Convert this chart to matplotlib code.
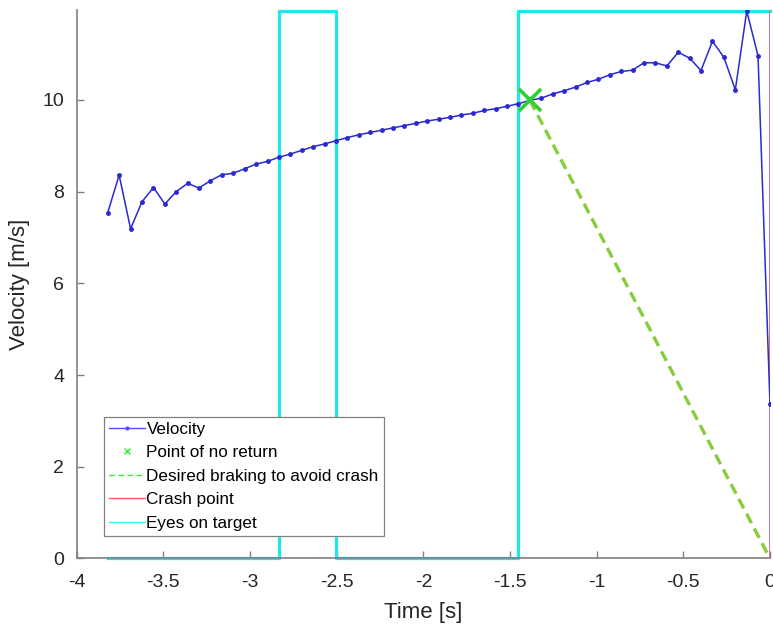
import matplotlib
matplotlib.use("Agg")
from matplotlib import pyplot as plt
from matplotlib.lines import Line2D

plt.rcParams['font.family'] = ['Liberation Sans', 'DejaVu Sans']

# sample times [s] relative to crash
time = [-3.821, -3.755, -3.689, -3.623, -3.557, -3.491, -3.426, -3.360, -3.294, -3.228,
        -3.162, -3.097, -3.031, -2.965, -2.899, -2.833, -2.767, -2.702, -2.636, -2.570,
        -2.504, -2.438, -2.372, -2.307, -2.241, -2.175, -2.109, -2.043, -1.977, -1.912,
        -1.846, -1.780, -1.714, -1.648, -1.582, -1.517, -1.451, -1.385, -1.319, -1.253,
        -1.188, -1.122, -1.056, -0.990, -0.924, -0.858, -0.793, -0.727, -0.661, -0.595,
        -0.529, -0.463, -0.398, -0.332, -0.266, -0.200, -0.134, -0.069, 0.0]

velocity = [7.54, 8.36, 7.19, 7.78, 8.09, 7.73, 8.00, 8.18, 8.08, 8.24,
            8.37, 8.40, 8.50, 8.60, 8.66, 8.75, 8.82, 8.90, 8.98, 9.04,
            9.11, 9.18, 9.24, 9.29, 9.34, 9.39, 9.44, 9.49, 9.54, 9.58,
            9.62, 9.67, 9.71, 9.77, 9.81, 9.86, 9.92, 9.99, 10.04, 10.13,
            10.20, 10.28, 10.38, 10.45, 10.55, 10.62, 10.65, 10.81, 10.81, 10.74,
            11.04, 10.91, 10.64, 11.28, 10.93, 10.22, 11.94, 10.96, 3.37]

# 1 = eyes on target at that sample
eyes = [0] * 15 + [1] * 5 + [0] * 16 + [1] * 23

no_return_idx = 37
crash_time = 0.0

fig = plt.figure(figsize=(7.73, 6.28), dpi=100)
ax = fig.add_axes([0.0992, 0.1107, 0.8969, 0.8733])

top = max(velocity)
eyes_level = [e * top for e in eyes]

ax.step(time, eyes_level, where='post', color='#1ee6ea', linewidth=2.3, clip_on=False, zorder=2)
ax.plot(time, velocity, color='#2a2ad0', linewidth=1.1, marker='.', markersize=5, zorder=3)
ax.plot([crash_time, crash_time], [0, top], color='#cc7a80', linewidth=1.4, zorder=2)

t0 = time[no_return_idx]
v0 = velocity[no_return_idx]
ax.plot([t0, crash_time], [v0, 0], color='#86cc3c', linewidth=2.4,
        linestyle=(0, (3.2, 1.8)), zorder=4)
ax.plot([t0], [v0], marker='x', markersize=16, markeredgewidth=2.6,
        color='#2ed12e', linestyle='none', zorder=5)

ax.set_xlim(-4, 0)
ax.set_ylim(0, 11.96)
ax.set_xticks([-4, -3.5, -3, -2.5, -2, -1.5, -1, -0.5, 0])
ax.set_xticklabels(['-4', '-3.5', '-3', '-2.5', '-2', '-1.5', '-1', '-0.5', '0'])
ax.set_yticks([0, 2, 4, 6, 8, 10])

for side in ['top', 'right']:
    ax.spines[side].set_visible(False)
for side in ['left', 'bottom']:
    ax.spines[side].set_color('#808080')
    ax.spines[side].set_linewidth(1.2)
ax.tick_params(direction='in', length=5, width=1.0, color='#808080',
               labelsize=14, labelcolor='#262626')
ax.tick_params(axis='x', pad=11)
ax.tick_params(axis='y', pad=9)

ax.set_xlabel('Time [s]', fontsize=16, color='#262626', labelpad=8)
ax.set_ylabel('Velocity [m/s]', fontsize=16, color='#262626', labelpad=9)

handles = [
    Line2D([], [], color='#5050ff', linewidth=1.0, marker='.', markersize=4),
    Line2D([], [], color='#30ee30', linestyle='none', marker='x', markersize=4, markeredgewidth=1.0),
    Line2D([], [], color='#30ee30', linewidth=1.0, linestyle=(0, (4, 2.5))),
    Line2D([], [], color='#ff5a5a', linewidth=1.0),
    Line2D([], [], color='#40f0f0', linewidth=1.0),
]
labels = ['Velocity', 'Point of no return', 'Desired braking to avoid crash',
          'Crash point', 'Eyes on target']
leg = ax.legend(handles, labels, loc='lower left', bbox_to_anchor=(0.039, 0.041),
                fontsize=12.3, handlelength=2.1, handletextpad=0.1,
                labelspacing=0.5, borderpad=0.3, borderaxespad=0,
                fancybox=False, framealpha=1, edgecolor='#808080')
leg.get_frame().set_linewidth(0.9)
leg.set_zorder(6)

fig.savefig('out.png', dpi=100)
